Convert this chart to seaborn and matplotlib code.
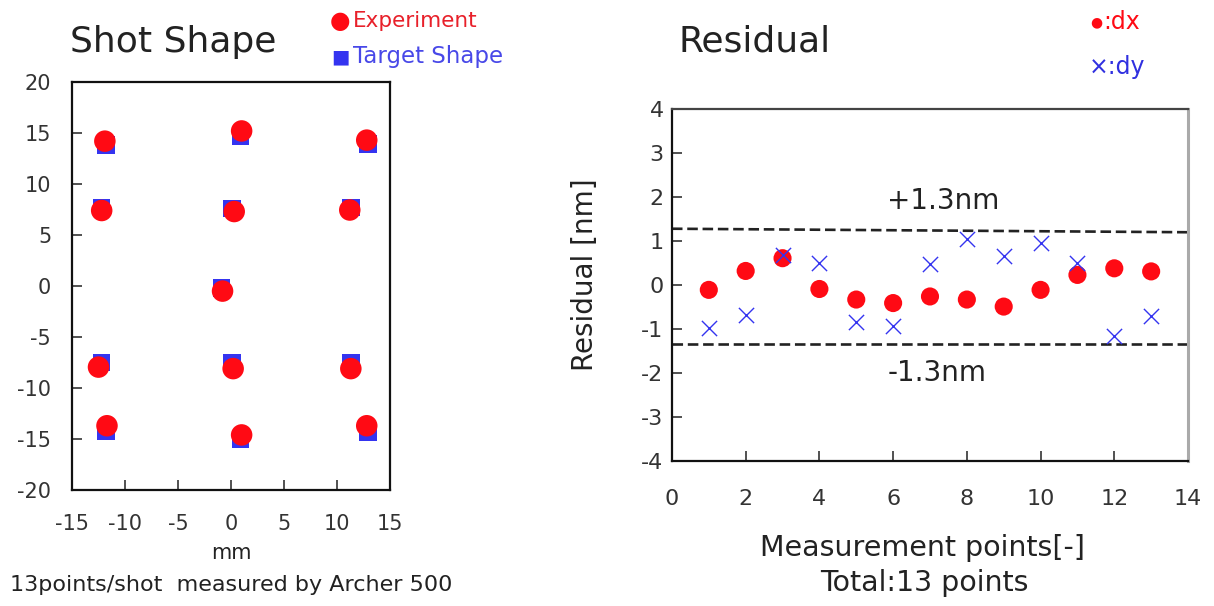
import matplotlib
matplotlib.use("Agg")
import matplotlib.pyplot as plt
import seaborn as sns
import pandas as pd

# ---- data ----
exp_x = [-11.9, 1.0, 12.8, -12.2, 0.3, 11.2, -0.8, -12.5, 0.2, 11.3, -11.7, 1.0, 12.8]
exp_y = [14.2, 15.2, 14.3, 7.4, 7.3, 7.45, -0.5, -7.95, -8.1, -8.1, -13.7, -14.6, -13.7]
tgt_x = [-11.8, 0.9, 12.9, -12.2, 0.1, 11.3, -0.9, -12.2, 0.1, 11.3, -11.8, 0.9, 12.9]
tgt_y = [13.8, 14.7, 13.9, 7.7, 7.6, 7.7, -0.2, -7.5, -7.5, -7.5, -14.2, -15.0, -14.3]

points = list(range(1, 14))
dx = [-0.11, 0.32, 0.61, -0.09, -0.33, -0.41, -0.26, -0.33, -0.49, -0.11, 0.23, 0.38, 0.31]
dy = [-0.97, -0.68, 0.68, 0.50, -0.84, -0.93, 0.47, 1.04, 0.65, 0.96, 0.51, -1.17, -0.71]

limit_x = [0, 14]
upper_limit = [1.28, 1.20]
lower_limit = [-1.35, -1.35]

left_xticks = [-15, -10, -5, 0, 5, 10, 15]
left_yticks = [-20, -15, -10, -5, 0, 5, 10, 15, 20]
right_xticks = [0, 2, 4, 6, 8, 10, 12, 14]
right_yticks = [-4, -3, -2, -1, 0, 1, 2, 3, 4]

RED = "#FF0A14"
BLUE = "#3434F0"
TXT = "#222222"

sns.set_style("white")
plt.rcParams["font.family"] = ["DejaVu Sans"]
plt.rcParams["axes.unicode_minus"] = False

fig = plt.figure(figsize=(12.14, 6.06), dpi=100)
ax1 = fig.add_axes([0.0593, 0.1914, 0.2620, 0.6733])
ax2 = fig.add_axes([0.5535, 0.2393, 0.4251, 0.5807])

# ---- left: shot shape ----
df_t = pd.DataFrame({"x": tgt_x, "y": tgt_y})
df_e = pd.DataFrame({"x": exp_x, "y": exp_y})
sns.scatterplot(data=df_t, x="x", y="y", ax=ax1, marker="s", s=160,
                color=BLUE, edgecolor="none", zorder=2)
sns.scatterplot(data=df_e, x="x", y="y", ax=ax1, marker="o", s=240,
                color=RED, edgecolor="none", zorder=3)
ax1.set_xlim(-15, 15)
ax1.set_ylim(-20, 20)
ax1.set_xticks(left_xticks)
ax1.set_yticks(left_yticks)
ax1.set_xlabel("")
ax1.set_ylabel("")

# ---- right: residual ----
df_r = pd.DataFrame({"p": points, "dx": dx, "dy": dy})
sns.scatterplot(data=df_r, x="p", y="dx", ax=ax2, marker="o", s=170,
                color=RED, edgecolor="none", zorder=3)
sns.scatterplot(data=df_r, x="p", y="dy", ax=ax2, marker="x", s=120,
                color=BLUE, linewidth=1.0, zorder=4)
sns.lineplot(x=limit_x, y=upper_limit, ax=ax2, color="#222222",
             linewidth=1.9, zorder=2)
sns.lineplot(x=limit_x, y=lower_limit, ax=ax2, color="#222222",
             linewidth=1.9, zorder=2)
for ln in ax2.lines:
    ln.set_linestyle((0, (4, 1.8)))
ax2.set_xlim(0, 14)
ax2.set_ylim(-4, 4)
ax2.set_xticks(right_xticks)
ax2.set_yticks(right_yticks)
ax2.set_xlabel("")
ax2.set_ylabel("")

for ax in (ax1, ax2):
    ax.tick_params(axis="both", which="both", direction="in", length=7,
                   width=1.2, colors="#333333", labelsize=15,
                   top=False, right=False, left=True, bottom=True)
    for sp in ax.spines.values():
        sp.set_color("#111111")
        sp.set_linewidth(1.6)
    ax.grid(False)
ax2.tick_params(axis="both", labelsize=16)
ax1.tick_params(axis="y", pad=15)
ax1.tick_params(axis="x", pad=17)
ax2.tick_params(axis="y", pad=6)
ax2.tick_params(axis="x", pad=20)
ax2.spines["top"].set_color("#444444")
ax2.spines["right"].set_color("#aaaaaa")
ax2.spines["right"].set_linewidth(2.2)

# ---- texts ----
fig.text(70 / 1214, 1 - 42 / 606, "Shot Shape", fontsize=26, color=TXT,
         ha="left", va="center")
fig.text(330 / 1214, 1 - 21 / 606, "\u25CF", fontsize=17, color=RED,
         ha="left", va="center")
fig.text(353 / 1214, 1 - 21 / 606, "Experiment", fontsize=15.5, color="#E8202A",
         ha="left", va="center")
fig.text(331 / 1214, 1 - 57 / 606, "\u25A0", fontsize=14, color=BLUE,
         ha="left", va="center")
fig.text(353 / 1214, 1 - 57 / 606, "Target Shape", fontsize=16.5, color="#4848E8",
         ha="left", va="center")
fig.text(231 / 1214, 1 - 553 / 606, "mm", fontsize=15, color=TXT,
         ha="center", va="center")
fig.text(10 / 1214, 1 - 585 / 606, "13points/shot  measured by Archer 500",
         fontsize=16, color=TXT, ha="left", va="center")

fig.text(678 / 1214, 1 - 42 / 606, "Residual", fontsize=26, color=TXT,
         ha="left", va="center")
fig.text(1090 / 1214, 1 - 22 / 606, "\u25CF", fontsize=10, color=RED,
         ha="left", va="center")
fig.text(1103 / 1214, 1 - 22 / 606, ":dx", fontsize=17, color=RED,
         ha="left", va="center")
fig.text(1089 / 1214, 1 - 67 / 606, "\u00D7:dy", fontsize=17, color="#3030E0",
         ha="left", va="center")
fig.text(585 / 1214, 1 - 275 / 606, "Residual [nm]", fontsize=20, color=TXT,
         ha="center", va="center", rotation=90)
fig.text(922 / 1214, 1 - 548 / 606, "Measurement points[-]", fontsize=20.5,
         color=TXT, ha="center", va="center")
fig.text(924 / 1214, 1 - 583 / 606, "Total:13 points", fontsize=20.5,
         color=TXT, ha="center", va="center")
ax2.text(7.35, 1.9, "+1.3nm", fontsize=20, color=TXT, ha="center", va="center")
ax2.text(7.2, -2.0, "-1.3nm", fontsize=20, color=TXT, ha="center", va="center")

fig.savefig("out.png", dpi=100)
